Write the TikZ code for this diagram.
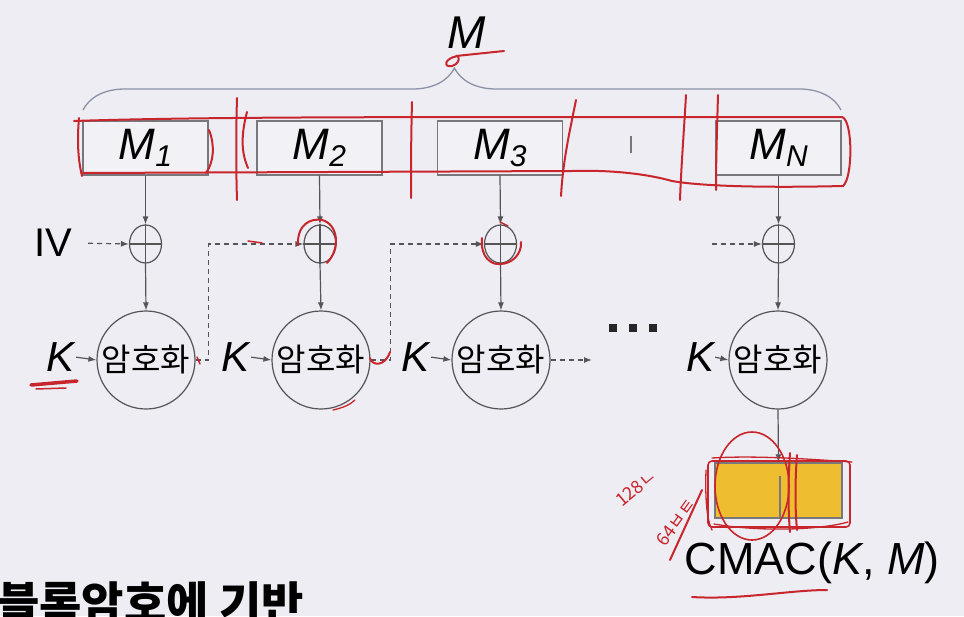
\documentclass[tikz,border=0pt]{standalone}
\usepackage{fontspec}
\setmainfont{Liberation Sans}
\newfontfamily\kr{Noto Sans CJK KR}
\usetikzlibrary{arrows.meta,shapes.geometric,decorations.pathreplacing}
\definecolor{bgc}{RGB}{237,237,243}
\definecolor{boxfill}{RGB}{242,242,246}
\definecolor{boxgray}{RGB}{120,120,124}
\definecolor{linegray}{RGB}{85,85,88}
\definecolor{bracecol}{RGB}{140,146,165}
\definecolor{penred}{RGB}{200,38,44}
\definecolor{gold}{RGB}{238,190,48}
\tikzset{
  blk/.style={draw=boxgray, line width=1.3pt, fill=boxfill, minimum width=125pt, minimum height=54pt, inner sep=0pt},
  xorc/.style={ellipse, draw=linegray, line width=1.2pt, minimum width=32pt, minimum height=38pt, inner sep=0pt},
  encc/.style={circle, draw=linegray, line width=1.2pt, minimum size=98pt, inner sep=0pt, font=\kr\fontsize{32}{32}\selectfont},
  arr/.style={draw=linegray, line width=1.2pt, -{Latex[length=8pt,width=6pt]}},
  darr/.style={arr, dash pattern=on 5pt off 4pt},
  plusline/.style={draw=linegray, line width=1.1pt},
  pen/.style={draw=penred, line width=2pt, line cap=round, line join=round},
  bigtxt/.style={inner sep=0pt, font=\fontsize{42}{46}\selectfont},
  sqdot/.style={fill=black!85, minimum size=8pt, inner sep=0pt},
  hand/.style={text=penred, inner sep=0pt, font=\kr\fontsize{18}{18}\selectfont},
}
\newcommand{\msub}[1]{\itshape M\raisebox{-7pt}{\fontsize{30}{30}\selectfont #1}}
\begin{document}
\begin{tikzpicture}[x=1pt,y=-1pt]
\useasboundingbox (0,0) rectangle (964,616);
\clip (0,0) rectangle (964,616);
\fill[bgc] (0,0) rectangle (964,616);

% message label and brace
\node[bigtxt, font=\fontsize{46}{50}\selectfont\itshape] (mlab) at (467,33) {M};
\coordinate (bl) at (83,110);
\coordinate (br) at (841,110);
\draw[decorate, decoration={brace, amplitude=42pt, aspect=0.49}, draw=bracecol, line width=1.3pt] (bl) -- (br);

% blocks
\node[blk] (m1) at (145.5,148) {\fontsize{44}{48}\selectfont\msub{1}};
\node[blk] (m2) at (319.5,148) {\fontsize{44}{48}\selectfont\msub{2}};
\node[blk] (m3) at (500,148) {\fontsize{44}{48}\selectfont\msub{3}};
\node[blk] (mN) at (778.5,148) {\fontsize{44}{48}\selectfont\msub{N}};
\coordinate (tka) at (631,136);
\coordinate (tkb) at (631,153);
\draw[boxgray, line width=1.3pt] (tka) -- (tkb);

% xor
\node[xorc] (x1) at (145.5,244) {};
\node[xorc] (x2) at (320,244) {};
\node[xorc] (x3) at (500.5,244) {};
\node[xorc] (xN) at (778.5,244) {};
\foreach \n in {x1,x2,x3,xN}{
  \draw[plusline] (\n.west) -- (\n.east) (\n.north) -- (\n.south);
}

% encryption
\node[encc] (e1) at (146,360) {암호화};
\node[encc] (e2) at (321,360) {암호화};
\node[encc] (e3) at (501,360) {암호화};
\node[encc] (eN) at (778,360) {암호화};

% keys
\node[bigtxt, font=\fontsize{42}{46}\selectfont\itshape] (k1) at (61,357) {K};
\node[bigtxt, font=\fontsize{42}{46}\selectfont\itshape] (k2) at (236,357) {K};
\node[bigtxt, font=\fontsize{42}{46}\selectfont\itshape] (k3) at (416,357) {K};
\node[bigtxt, font=\fontsize{42}{46}\selectfont\itshape] (kN) at (700,357) {K};
\draw[arr, shorten <=1pt] (k1.east) -- (e1.west);
\draw[arr, shorten <=1pt] (k2.east) -- (e2.west);
\draw[arr, shorten <=1pt] (k3.east) -- (e3.west);
\draw[arr, shorten <=1pt] (kN.east) -- (eN.west);

% IV
\node[bigtxt, font=\fontsize{40}{44}\selectfont] (iv) at (53,243) {IV};
\draw[darr, shorten <=16pt] (iv.east) -- (x1.west);

% vertical arrows
\draw[arr] (m1.south) -- (x1.north);
\draw[arr] (m2.south) -- (x2.north);
\draw[arr] (m3.south) -- (x3.north);
\draw[arr] (mN.south) -- (xN.north);
\draw[arr] (x1.south) -- (e1.north);
\draw[arr] (x2.south) -- (e2.north);
\draw[arr] (x3.south) -- (e3.north);
\draw[arr] (xN.south) -- (eN.north);

% chaining
\draw[darr] (e1.east) -- ++(13,0) |- (x2.west);
\draw[darr] (e2.east) -- ++(20,0) |- (x3.west);
\coordinate (c3) at (592,360);
\draw[darr] (e3.east) -- (c3);
\coordinate (c4) at (712,244);
\draw[darr] (c4) -- (xN.west);
\node[sqdot] (d1) at (613,328) {};
\node[sqdot] (d2) at (633,328) {};
\node[sqdot] (d3) at (653,328) {};

% output
\node[draw=boxgray, line width=1.3pt, fill=gold, minimum width=127pt, minimum height=55pt, inner sep=0pt] (tag) at (778.5,490.5) {};
\coordinate (dv1) at (780,476);
\coordinate (dv2) at (780,518);
\draw[boxgray, line width=1.1pt] (dv1) -- (dv2);
\draw[arr] (eN.south) -- (tag.north);
\node[inner sep=0pt, font=\fontsize{45}{50}\selectfont] (cmac) at (812,563) {CMAC(\textit{K}, \textit{M})};

% bottom heading
\node[anchor=base west, inner sep=0pt, font=\kr\bfseries\fontsize{46}{50}\selectfont] (head) at (-3,620) {블록암호에 기반};

% ---- red pen annotations ----
\draw[pen] (74,121) .. controls (250,115) and (600,118) .. (842,117)
  .. controls (853,120) and (853,178) .. (843,186)
  .. controls (760,188) and (700,186) .. (672,181)
  .. controls (640,172) and (600,170) .. (572,171) -- (83,173);
\draw[pen] (79,118) .. controls (77,140) and (78,160) .. (82,176);
\draw[pen] (209,130) .. controls (215,145) and (214,162) .. (206,173);
\draw[pen] (237,98) .. controls (236,130) and (236,170) .. (237,200);
\draw[pen] (247,112) .. controls (241,135) and (241,152) .. (248,168);
\draw[pen] (412,102) .. controls (411,140) and (411,170) .. (411,198);
\draw[pen] (576,100) .. controls (570,130) and (563,160) .. (561,196);
\draw[pen] (686,95) .. controls (684,130) and (681,170) .. (680,200);
\draw[pen] (718,95) .. controls (717,130) and (716,160) .. (716,190);
% under M
\draw[pen] (456,56) -- (504,51);
\draw[pen] (458,56) .. controls (444,58) and (443,68) .. (452,66) .. controls (458,64) and (460,60) .. (458,56);
% K underline
\draw[pen, line width=3.5pt] (31,385) -- (77,381);
\draw[pen, line width=1.5pt] (36,389) -- (66,388);
% xor circles
\draw[pen] (298,245) .. controls (297,224) and (311,218) .. (322,220) .. controls (338,224) and (341,248) .. (327,263);
\draw[pen] (482,238) .. controls (480,258) and (492,265) .. (500,264) .. controls (512,264) and (522,254) .. (521,242);
\draw[pen, line width=1.5pt] (500,222) -- (508,226);
% small marks
\draw[pen, line width=1.5pt] (248,241) -- (262,243);
\draw[pen, line width=1.5pt] (197,357) -- (200,364);
\draw[pen] (370,358) .. controls (372,366) and (385,367) .. (390,352);
\draw[pen, line width=1.3pt] (333,410) .. controls (342,408) and (350,405) .. (355,400);
% around tag
\draw[pen, line width=1.6pt] (752,486) ellipse [x radius=37, y radius=54];
\draw[pen, line width=1.6pt, rounded corners=4pt] (708,461) rectangle (850,527);
\draw[pen, line width=1.3pt] (712,458) .. controls (760,455) and (820,460) .. (852,462);
\draw[pen, line width=1.3pt] (706,470) .. controls (705,500) and (707,520) .. (712,530);
\draw[pen, line width=1.3pt] (714,524) .. controls (760,532) and (820,530) .. (848,522);
\draw[pen] (790,453) .. controls (788,480) and (788,510) .. (790,532);
\draw[pen] (797,455) .. controls (795,480) and (795,510) .. (797,530);
\node[hand, rotate=40] (h128) at (636,488) {128ㄴ};
\node[hand, rotate=54] (h64) at (676,522) {64ㅂㅌ};
\draw[pen] (670,560) -- (702,490);
% CMAC underline
\draw[pen] (692,597) .. controls (740,600) and (790,590) .. (827,590);
\end{tikzpicture}
\end{document}
